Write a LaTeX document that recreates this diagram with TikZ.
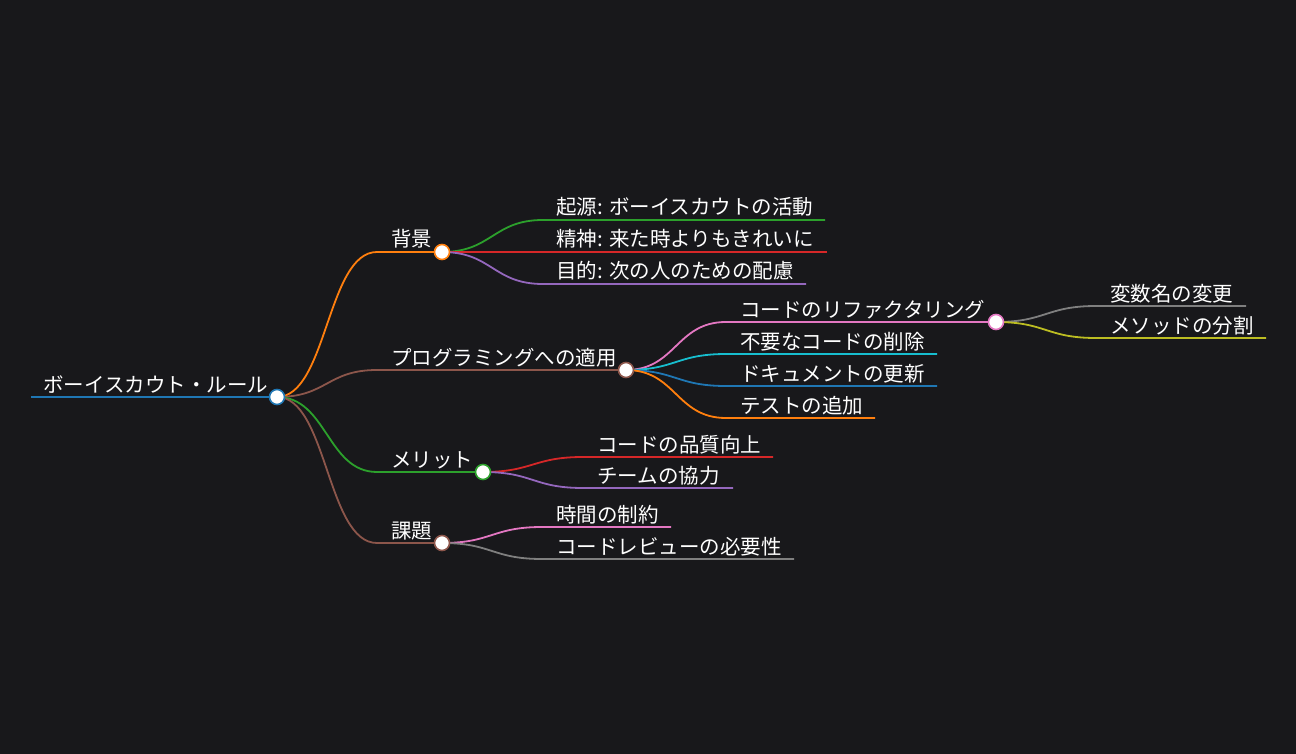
\documentclass[tikz,border=0pt]{standalone}
\usepackage{fontspec}
\setmainfont{Noto Sans CJK JP}
\usetikzlibrary{positioning, calc}

\definecolor{bgdark}{RGB}{24,24,27}
\definecolor{mblue}{HTML}{1F77B4}
\definecolor{morange}{HTML}{FF7F0E}
\definecolor{mgreen}{HTML}{2CA02C}
\definecolor{mred}{HTML}{D62728}
\definecolor{mpurple}{HTML}{9467BD}
\definecolor{mbrown}{HTML}{8C564B}
\definecolor{mpink}{HTML}{E377C2}
\definecolor{mgray}{HTML}{7F7F7F}
\definecolor{molive}{HTML}{BCBD22}
\definecolor{mcyan}{HTML}{17BECF}

% branch: colour, from, start of line, end of line
\newcommand{\mmbranch}[4]{\draw[br=#1] (#2) .. controls +(50,0) and +(-50,0) .. (#3) -- (#4);}

\begin{document}
\begin{tikzpicture}[x=1pt, y=-1pt,
  dot/.style={circle, draw=#1, fill=white, line width=1.6pt, minimum size=15pt, inner sep=0pt},
  txt/.style={anchor=base west, inner sep=0pt, text=white, font=\fontsize{20.5}{24}\selectfont},
  br/.style={line width=1.8pt, draw=#1}]
\fill[bgdark] (0,0) rectangle (1296,754);

% Centres of the circles
\coordinate (root) at (277,397);
\coordinate (bg) at (442,252);
\coordinate (prog) at (626,370);
\coordinate (merit) at (483,472);
\coordinate (issue) at (442,543);
\coordinate (refac) at (996,322);

% Root line
\coordinate (rootL) at (31,397);
\draw[br=mblue] (rootL) -- (root);

% First level
\mmbranch{morange}{root}{377,252}{bg}
\mmbranch{mbrown}{root}{377,370}{prog}
\mmbranch{mgreen}{root}{377,472}{merit}
\mmbranch{mbrown}{root}{377,543}{issue}

% Background
\mmbranch{mgreen}{bg}{543,220}{825,220}
\mmbranch{mred}{bg}{543,252}{827,252}
\mmbranch{mpurple}{bg}{543,284}{806,284}

% Programming
\mmbranch{mpink}{prog}{726,322}{refac}
\mmbranch{mcyan}{prog}{726,354}{937,354}
\mmbranch{mblue}{prog}{726,386}{937,386}
\mmbranch{morange}{prog}{726,418}{875,418}

% Refactoring
\mmbranch{mgray}{refac}{1096,306}{1246,306}
\mmbranch{molive}{refac}{1096,338}{1266,338}

% Merits
\mmbranch{mred}{merit}{583,457}{773,457}
\mmbranch{mpurple}{merit}{583,488}{733,488}

% Issues
\mmbranch{mpink}{issue}{542,527}{671,527}
\mmbranch{mgray}{issue}{542,559}{794,559}

% Circles
\node[dot=mblue] (rootDot) at (root) {};
\node[dot=morange] (bgDot) at (bg) {};
\node[dot=mbrown] (progDot) at (prog) {};
\node[dot=mgreen] (meritDot) at (merit) {};
\node[dot=mbrown] (issueDot) at (issue) {};
\node[dot=mpink] (refacDot) at (refac) {};

% Labels
\node[txt] (rootT) at (43,392) {ボーイスカウト・ルール};
\node[txt] (bgT) at (391,247) {背景};
\node[txt] (progT) at (391,365) {プログラミングへの適用};
\node[txt] (meritT) at (391,467) {メリット};
\node[txt] (issueT) at (391,538) {課題};

\node[txt] (origT) at (556,215) {起源: ボーイスカウトの活動};
\node[txt] (spiritT) at (556,247) {精神: 来た時よりもきれいに};
\node[txt] (aimT) at (556,279) {目的: 次の人のための配慮};

\node[txt] (refacT) at (740,317) {コードのリファクタリング};
\node[txt] (unusedT) at (740,349) {不要なコードの削除};
\node[txt] (docT) at (740,381) {ドキュメントの更新};
\node[txt] (testT) at (740,413) {テストの追加};

\node[txt] (varT) at (1110,301) {変数名の変更};
\node[txt] (methT) at (1110,333) {メソッドの分割};

\node[txt] (qualT) at (597,452) {コードの品質向上};
\node[txt] (teamT) at (597,483) {チームの協力};

\node[txt] (timeT) at (556,522) {時間の制約};
\node[txt] (revT) at (556,554) {コードレビューの必要性};
\end{tikzpicture}
\end{document}
